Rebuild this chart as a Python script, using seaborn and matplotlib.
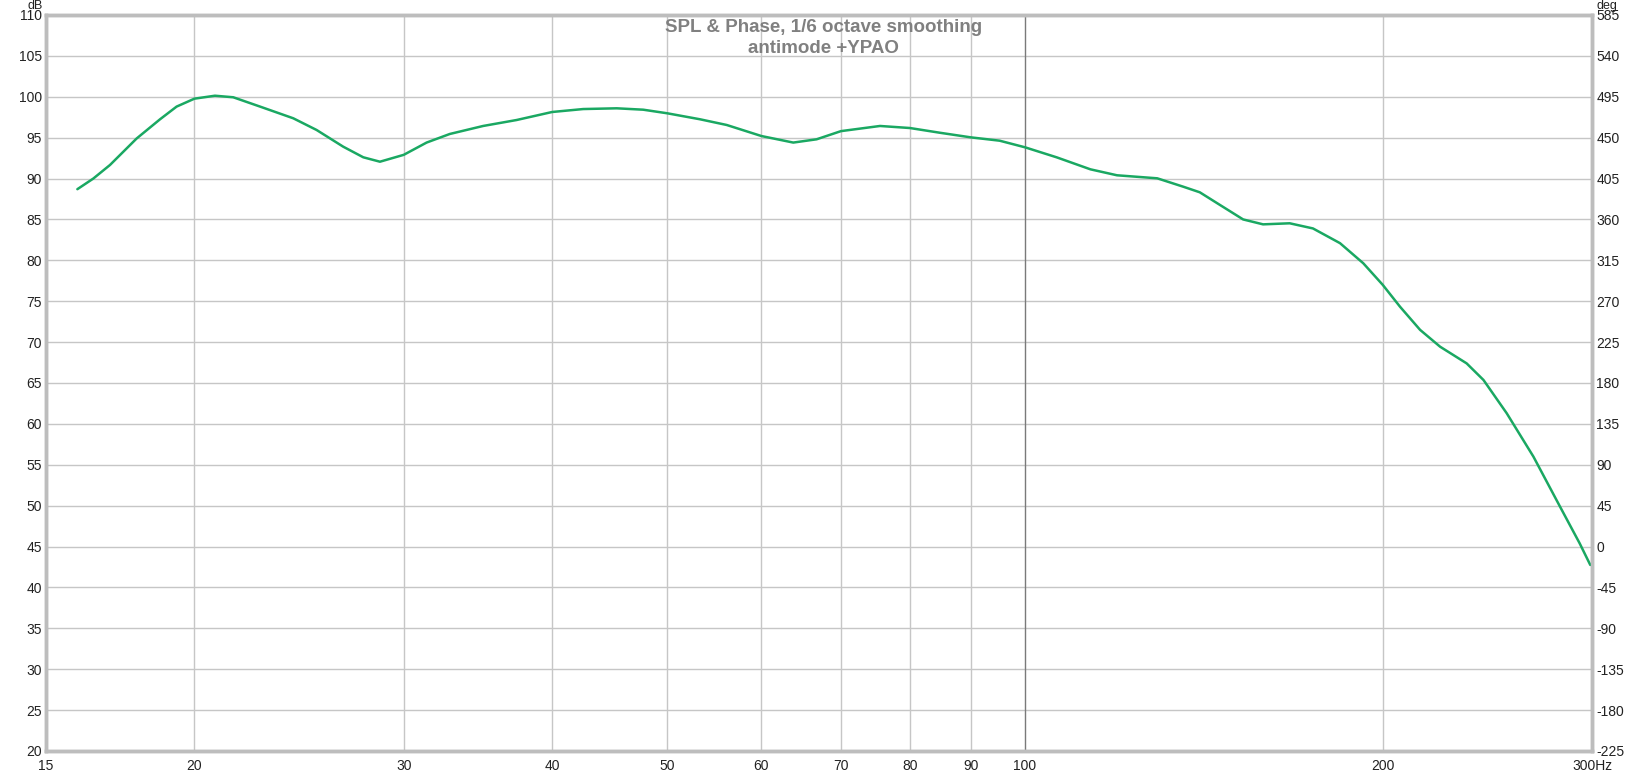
import matplotlib
matplotlib.use("Agg")
import matplotlib.pyplot as plt
import seaborn as sns
import pandas as pd
import numpy as np

# SPL curve (Hz, dB)
freq = [15.94, 16.44, 16.98, 17.88, 18.71, 19.32, 20.0, 20.81, 21.56, 22.71,
        24.22, 25.34, 26.68, 27.74, 28.65, 30.0, 31.36, 32.8, 34.99, 37.34,
        40.0, 42.48, 45.33, 47.72, 50.0, 53.26, 56.1, 60.0, 63.82, 66.77,
        70.0, 75.5, 80.0, 84.8, 90.0, 95.2, 100.0, 106.3, 113.5, 119.5,
        129.2, 135.9, 140.3, 145.9, 152.6, 158.6, 167.0, 174.7, 184.1, 192.6,
        200.0, 206.8, 215.0, 223.5, 235.3, 243.1, 254.3, 267.8, 282.0, 292.9,
        299.0]
spl = [88.7, 90.0, 91.66, 94.9, 97.25, 98.8, 99.77, 100.13, 99.94, 98.8,
       97.37, 95.94, 93.9, 92.6, 92.06, 92.9, 94.4, 95.45, 96.43, 97.16,
       98.14, 98.5, 98.59, 98.42, 97.98, 97.25, 96.55, 95.2, 94.4, 94.8,
       95.8, 96.43, 96.18, 95.6, 95.04, 94.63, 93.82, 92.6, 91.13, 90.4,
       90.03, 89.0, 88.32, 86.77, 85.0, 84.4, 84.53, 83.9, 82.1, 79.64,
       77.0, 74.33, 71.5, 69.44, 67.4, 65.37, 61.3, 56.0, 49.87, 45.4,
       42.75]

x_ticks = [15, 20, 30, 40, 50, 60, 70, 80, 90, 100, 200, 300]
x_labels = ["15", "20", "30", "40", "50", "60", "70", "80", "90", "100", "200", "300Hz"]
db_ticks = list(range(20, 111, 5))
deg_ticks = list(range(-225, 586, 45))

title = "SPL & Phase, 1/6 octave smoothing\nantimode +YPAO"

df = pd.DataFrame({"Hz": freq, "dB": spl})

sns.set_style("white")
plt.rcParams["font.family"] = ["Liberation Sans", "DejaVu Sans"]
plt.rcParams["axes.unicode_minus"] = False

fig = plt.figure(figsize=(16.49, 7.72), dpi=100)
ax = fig.add_axes([46 / 1649, 1 - 751 / 772, (1592 - 46) / 1649, (751 - 15) / 772])

ax.set_xscale("log")
ax.set_xlim(15, 300)
ax.set_ylim(20, 110)

# grid
for t in db_ticks:
    ax.axhline(t, color="#c6c6c6", lw=1, zorder=0)
for t in x_ticks:
    ax.axvline(t, color="#7a7a7a" if t == 100 else "#c6c6c6", lw=1, zorder=0)

sns.lineplot(data=df, x="Hz", y="dB", ax=ax, color="#1aa862", linewidth=1.8, zorder=3)

ax.set_xticks(x_ticks)
ax.set_xticklabels(x_labels)
ax.xaxis.set_minor_locator(matplotlib.ticker.NullLocator())
ax.set_yticks(db_ticks)
ax.tick_params(axis="y", length=0, labelsize=10, colors="#222222", pad=3)
ax.tick_params(axis="x", length=0, labelsize=10, colors="#222222", pad=6)
ax.set_xlabel("")
ax.set_ylabel("")

ax2 = ax.twinx()
ax2.set_ylim(-225, 585)
ax2.set_yticks(deg_ticks)
ax2.tick_params(axis="y", length=0, labelsize=10, colors="#222222", pad=3)

for a in (ax, ax2):
    for s in a.spines.values():
        s.set_color("#bdbdbd")
        s.set_linewidth(2.5)

ax.text(-0.002, 1.0075, "dB", transform=ax.transAxes, ha="right", va="baseline", fontsize=9, color="#222222")
ax.text(1.003, 1.0075, "deg", transform=ax.transAxes, ha="left", va="baseline", fontsize=9, color="#222222")

ax.text(0.503, 0.995, title, transform=ax.transAxes, ha="center", va="top",
        fontsize=13.5, fontweight="bold", color="#808080", linespacing=1.3, zorder=5)

fig.savefig("out.png", dpi=100)
